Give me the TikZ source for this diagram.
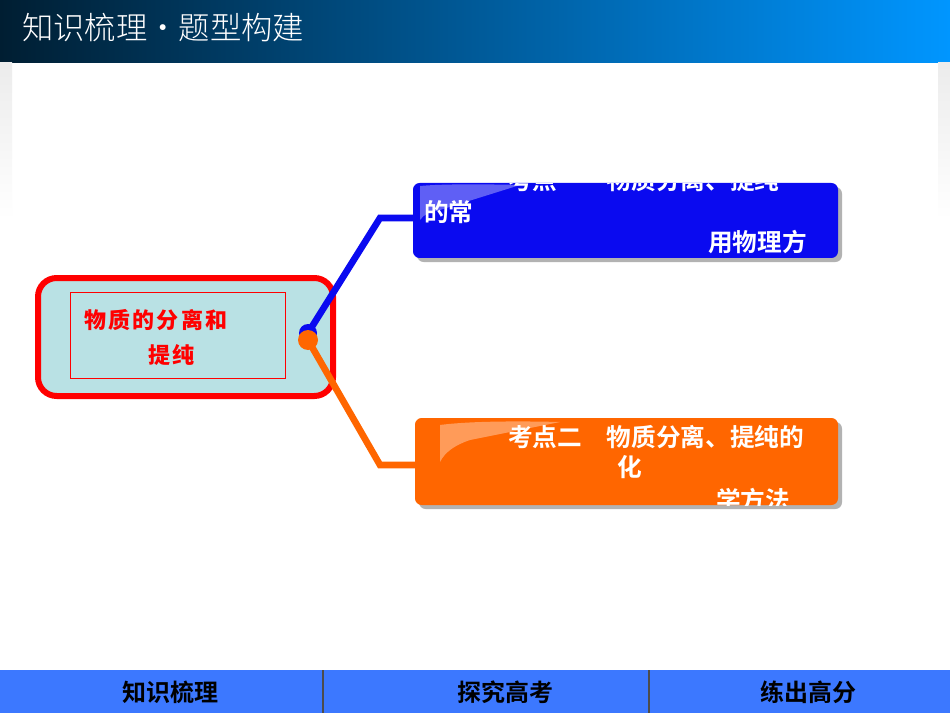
\documentclass[tikz,border=0pt]{standalone}
\usepackage{fontspec}
\newfontfamily\cjk{Noto Sans CJK SC}
\newfontfamily\cjkb{Noto Sans CJK SC Bold}
\newfontfamily\cjkl{Noto Sans CJK SC Light}
\newfontfamily\cjkroot[LetterSpace=10]{Noto Sans CJK SC Black}
\definecolor{hdA}{RGB}{0,30,50}
\definecolor{hdB}{RGB}{0,150,255}
\definecolor{barblue}{RGB}{60,120,255}
\definecolor{rootfill}{RGB}{185,225,228}
\definecolor{bbox}{RGB}{10,10,240}
\definecolor{obox}{RGB}{255,102,0}
\tikzset{
 boxtxt/.style={text=white,font=\cjkb\fontsize{18.5}{18.5}\selectfont,anchor=west,inner sep=0},
 bartxt/.style={font=\cjkb\fontsize{18}{18}\selectfont},
 roottxt/.style={text=red,font=\cjkroot\fontsize{16.5}{16.5}\selectfont,anchor=west,inner sep=0},
}
\begin{document}
\begin{tikzpicture}[x=0.75pt,y=-0.75pt]
\useasboundingbox (0,0) rectangle (950,713);
\fill[white] (0,0) rectangle (950,713);
% header
\shade[left color=hdA,right color=hdB] (0,0) rectangle (950,63);
\shade[top color=gray!15,bottom color=white] (0,63) rectangle (12,220);
\shade[top color=gray!15,bottom color=white] (938,63) rectangle (950,220);
\node[anchor=west,text=white,font=\cjkl\fontsize{23.5}{23.5}\selectfont,inner sep=0] (title) at (22,28) {知识梳理·题型构建};
% bottom bar
\fill[barblue] (0,670) rectangle (950,713);
\draw[black!70,line width=1pt] (323,670) -- (323,713) (649,670) -- (649,713);
\node[bartxt] (b1) at (170,692) {知识梳理};
\node[bartxt] (b2) at (505,692) {探究高考};
\node[bartxt] (b3) at (808,692) {练出高分};
% root
\draw[red,line width=4.5pt,fill=rootfill,rounded corners=14pt] (38,278) rectangle (333,396);
\node[draw=red,line width=0.6pt,minimum width=161pt,minimum height=64.5pt] (root) at (178,335) {};
\node[roottxt] (r1) at (84,320) {物质的分离和};
\node[roottxt] (r2) at (148,355) {提纯};
\coordinate (jb) at (308,333);
\coordinate (jo) at (308,340);
% connectors
\draw[bbox,line width=5pt] (jb) -- (380,218) -- (414,218);
\draw[obox,line width=5pt] (jo) -- (380,465) -- (416,465);
\fill[bbox] (jb) circle (9);
\fill[obox] (jo) circle (10);
% blue box
\fill[gray!60,rounded corners=5pt] (417,187) rectangle (842,262);
\fill[bbox,rounded corners=5pt] (413,183) rectangle (838,258);
\fill[white,opacity=0.35] (420,186) .. controls (440,184) and (480,184) .. (520,185) -- (440,210) .. controls (430,212) and (424,214) .. (420,220) -- cycle;
\begin{scope}
\clip[rounded corners=5pt] (413,183) rectangle (838,258);
\node[boxtxt] (t1a) at (508,180) {考点一　物质分离、提纯};
\end{scope}
\node[boxtxt] (t1b) at (424,212) {的常};
\node[boxtxt] (t1c) at (708,242) {用物理方};
% orange box
\fill[gray!60,rounded corners=5pt] (419,422) rectangle (842,509);
\fill[obox,rounded corners=5pt] (415,418) rectangle (838,505);
\fill[white,opacity=0.35] (440,425) .. controls (470,421) and (520,421) .. (560,422) -- (470,440) .. controls (455,445) and (445,452) .. (440,462) -- cycle;
\node[boxtxt] (t2a) at (508,437) {考点二　物质分离、提纯的};
\node[boxtxt] (t2b) at (617,467) {化};
\begin{scope}
\clip (415,418) rectangle (838,505);
\node[boxtxt] (t2c) at (716,500) {学方法};
\end{scope}
\end{tikzpicture}
\end{document}
